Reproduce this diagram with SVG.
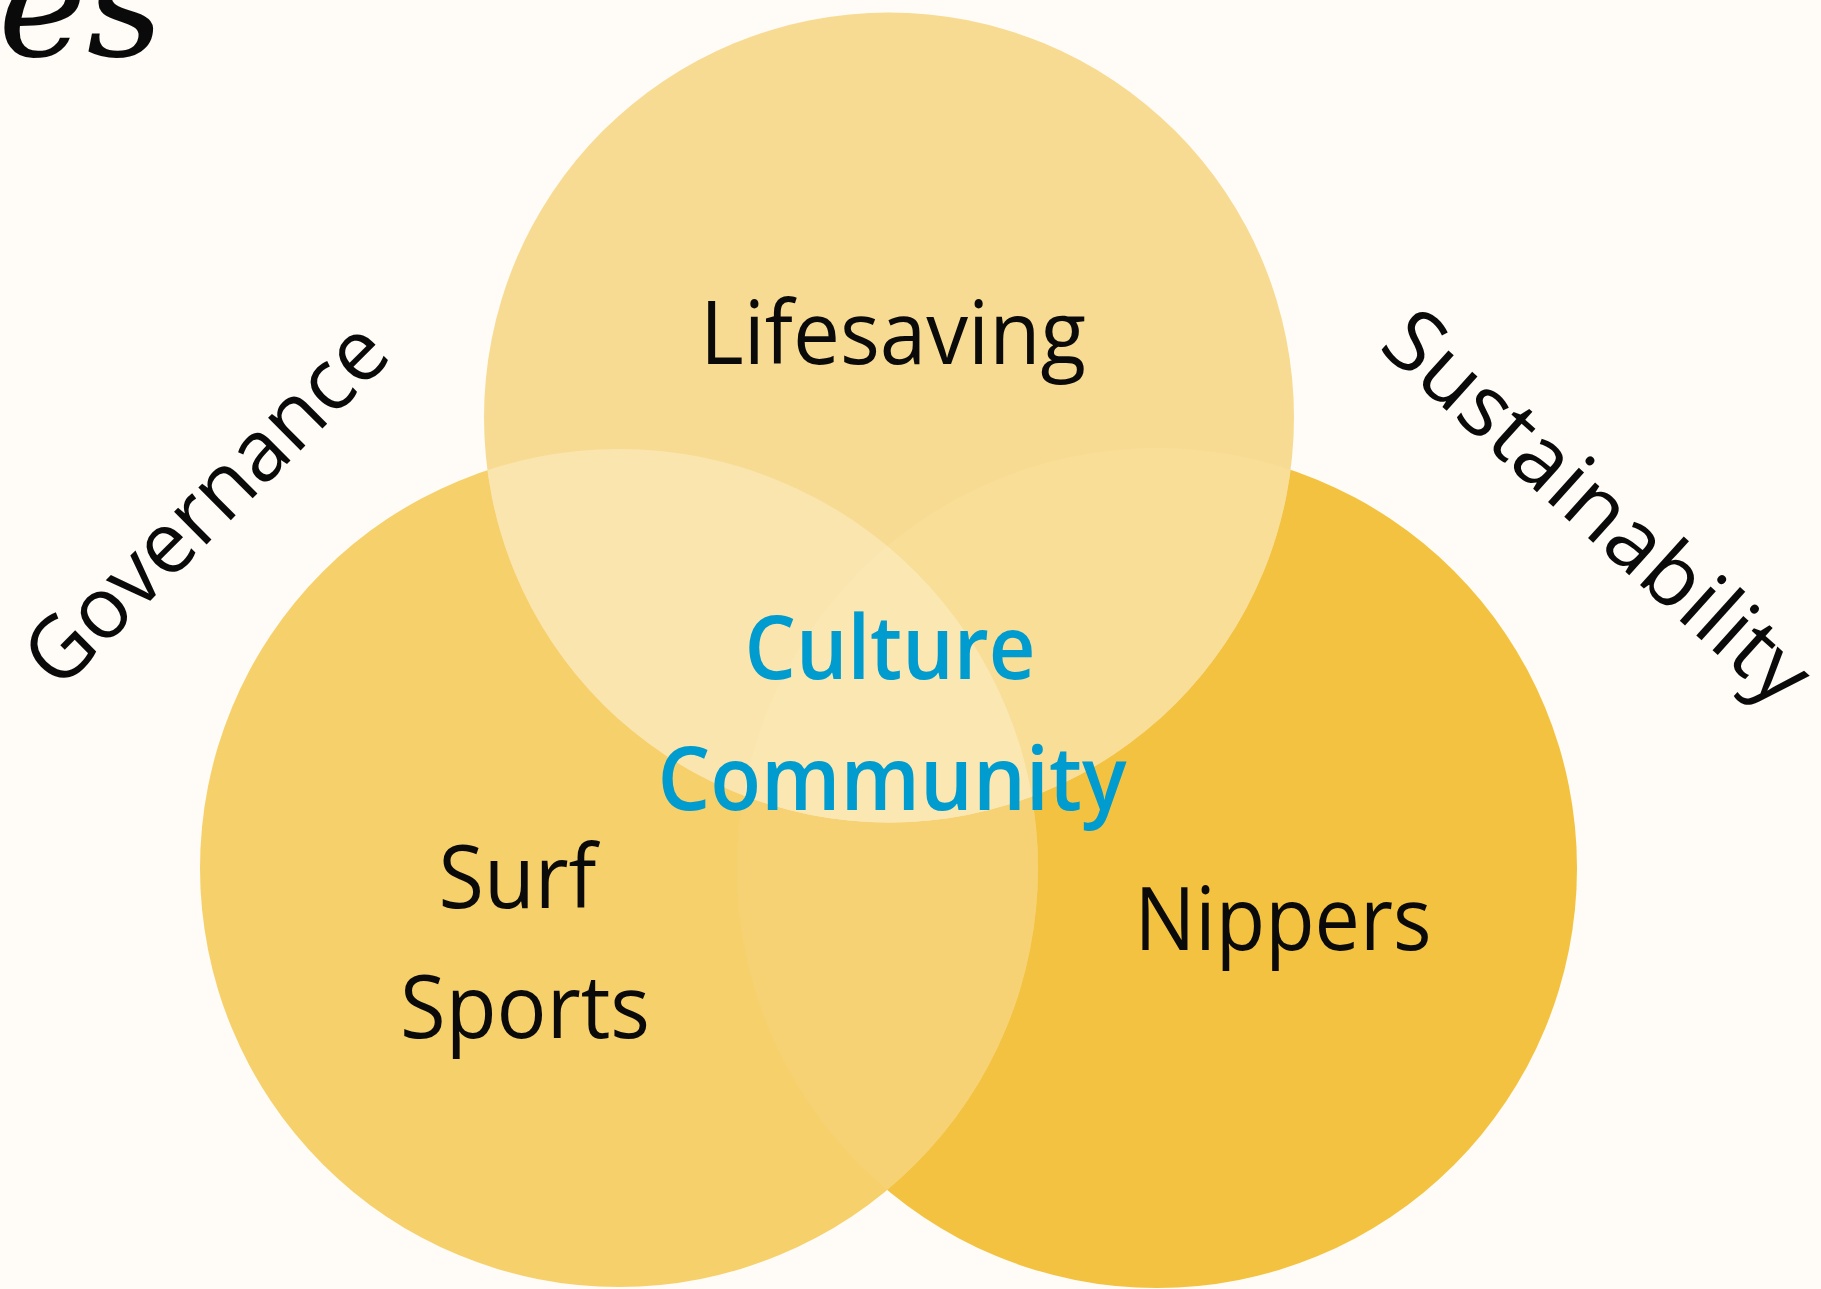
<svg xmlns="http://www.w3.org/2000/svg" width="1821" height="1289" viewBox="0 0 1821 1289">
  <style>
    .label { font-family: "Open Sans", "Noto Sans", "Liberation Sans", sans-serif; font-size: 88px; fill: #0a0a0a; text-anchor: middle; }
    .core { font-family: "Open Sans", "Noto Sans", "Liberation Sans", sans-serif; font-size: 88px; font-weight: 600; fill: #009BCF; text-anchor: middle; }
    .side { font-family: "Open Sans", "Noto Sans", "Liberation Sans", sans-serif; font-size: 86px; fill: #0a0a0a; text-anchor: middle; }
    .hand { font-family: "DejaVu Serif", "Liberation Serif", serif; font-style: italic; font-size: 150px; fill: #0a0a0a; }
  </style>
  <defs>
    <clipPath id="clipTop"><circle cx="889" cy="417.5" r="405"/></clipPath>
    <clipPath id="clipLeft"><circle cx="619" cy="868" r="419"/></clipPath>
    <clipPath id="clipRight"><circle cx="1157" cy="868" r="420"/></clipPath>
  </defs>

  <rect x="0" y="0" width="1821" height="1289" fill="#FFFCF7"/>

  <g id="title-fragment">
    <text class="hand" x="-2" y="56">es</text>
  </g>

  <g id="node-nippers">
    <circle cx="1157" cy="868" r="420" fill="#F3C240"/>
  </g>
  <g id="node-surf-sports">
    <circle cx="619" cy="868" r="419" fill="#F6D06B"/>
  </g>
  <g id="overlap-surf-nippers">
    <circle cx="619" cy="868" r="419" fill="#F6D275" clip-path="url(#clipRight)"/>
  </g>
  <g id="node-lifesaving">
    <circle cx="889" cy="417.5" r="405" fill="#F8DB92"/>
  </g>
  <g id="overlaps-lifesaving">
    <circle cx="1157" cy="868" r="420" fill="#F9DE98" clip-path="url(#clipTop)"/>
    <circle cx="619" cy="868" r="419" fill="#FAE5AE" clip-path="url(#clipTop)"/>
    <g clip-path="url(#clipTop)">
      <circle cx="1157" cy="868" r="420" fill="#FAE7B2" clip-path="url(#clipLeft)"/>
    </g>
  </g>

  <g id="connectors"/>

  <g id="labels">
    <text id="label-lifesaving" class="label" x="893" y="364" textLength="386" lengthAdjust="spacingAndGlyphs">Lifesaving</text>
    <text id="label-surf" class="label" x="517.5" y="908" textLength="158" lengthAdjust="spacingAndGlyphs">Surf</text>
    <text id="label-sports" class="label" x="525" y="1038" textLength="250" lengthAdjust="spacingAndGlyphs">Sports</text>
    <text id="label-nippers" class="label" x="1283" y="950" font-size="86" textLength="297" lengthAdjust="spacingAndGlyphs">Nippers</text>
  </g>

  <g id="node-core">
    <text class="core" x="890" y="679" textLength="291" lengthAdjust="spacingAndGlyphs">Culture</text>
    <text class="core" x="892" y="810" textLength="469" lengthAdjust="spacingAndGlyphs">Community</text>
  </g>

  <g id="node-governance">
    <text class="side" transform="translate(226.5,524.5) rotate(-45)" x="0" y="0" textLength="474" lengthAdjust="spacingAndGlyphs">Governance</text>
  </g>
  <g id="node-sustainability">
    <text class="side" transform="translate(1578,529) rotate(42)" x="0" y="0" textLength="541" lengthAdjust="spacingAndGlyphs">Sustainability</text>
  </g>
</svg>
